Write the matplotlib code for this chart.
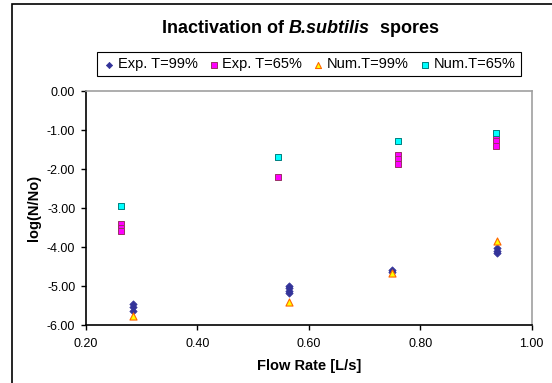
import numpy as np
import matplotlib
matplotlib.use("Agg")
import matplotlib.pyplot as plt
from matplotlib.patches import Rectangle

plt.rcParams['font.family'] = ['Liberation Sans', 'DejaVu Sans']

# data
exp99_x = [0.285, 0.285, 0.285, 0.564, 0.564, 0.564, 0.564, 0.749, 0.749, 0.938, 0.938, 0.938]
exp99_y = [-5.45, -5.55, -5.65, -5.00, -5.05, -5.12, -5.18, -4.60, -4.65, -4.03, -4.10, -4.16]
exp65_x = [0.263, 0.263, 0.263, 0.544, 0.761, 0.761, 0.761, 0.936, 0.936, 0.936]
exp65_y = [-3.42, -3.50, -3.60, -2.20, -1.65, -1.75, -1.88, -1.22, -1.28, -1.40]
num99_x = [0.285, 0.564, 0.749, 0.938]
num99_y = [-5.76, -5.40, -4.66, -3.85]
num65_x = [0.263, 0.544, 0.761, 0.936]
num65_y = [-2.96, -1.68, -1.28, -1.07]

xticks = [0.2, 0.4, 0.6, 0.8, 1.0]
yticks = [0, -1, -2, -3, -4, -5, -6]

title_parts = ["Inactivation of ", "B.subtilis", "  spores"]
title_styles = ["normal", "italic", "normal"]

fig = plt.figure(figsize=(5.52, 3.83), dpi=100)
ax = fig.add_axes([0.1553, 0.1514, 0.808, 0.611])

ax.scatter(exp99_x, exp99_y, marker='D', s=14, color='#333399', edgecolors='#333399',
           linewidths=0.5, label='Exp. T=99%', zorder=3)
ax.scatter(exp65_x, exp65_y, marker='s', s=22, color='#FF00FF', edgecolors='#993366',
           linewidths=0.7, label='Exp. T=65%', zorder=3)
ax.scatter(num99_x, num99_y, marker='^', s=26, color='#FFFF00', edgecolors='#FF6600',
           linewidths=0.8, label='Num.T=99%', zorder=4)
ax.scatter(num65_x, num65_y, marker='s', s=22, color='#00FFFF', edgecolors='#008080',
           linewidths=0.7, label='Num.T=65%', zorder=4)

ax.set_xlim(0.2, 1.0)
ax.set_ylim(-6, 0)
ax.set_xticks(xticks)
ax.set_xticklabels(["%.2f" % v for v in xticks])
ax.set_yticks(yticks)
ax.set_yticklabels(["%.2f" % v for v in yticks])
ax.tick_params(direction='out', length=3.5, width=1, labelsize=9, colors='black')
ax.tick_params(axis='x', pad=5.5)
ax.tick_params(axis='y', pad=4.0)

for s in ['left', 'bottom']:
    ax.spines[s].set_color('black')
    ax.spines[s].set_linewidth(1.2)
for s in ['top', 'right']:
    ax.spines[s].set_color('#A0A0A0')
    ax.spines[s].set_linewidth(1.2)

ax.set_xlabel("Flow Rate [L/s]", fontsize=10.5, fontweight='bold', labelpad=7)
ax.set_ylabel("log(N/No)", fontsize=10.5, fontweight='bold', labelpad=4)

# title in three pieces so that only the species name is italic
renderer = fig.canvas.get_renderer()
texts = []
for part, style in zip(title_parts, title_styles):
    t = fig.text(0, 0.926, part, ha='left', va='center', fontsize=13,
                 fontweight='bold', fontstyle=style)
    texts.append(t)
widths = [t.get_window_extent(renderer).width for t in texts]
x = 0.5435 * fig.bbox.width - sum(widths) / 2
for t, w in zip(texts, widths):
    t.set_x(x / fig.bbox.width)
    x += w

leg = fig.legend(loc='center', bbox_to_anchor=(0.559, 0.832), ncol=4, fontsize=10.5,
                 frameon=True, fancybox=False, edgecolor='black', framealpha=1,
                 handletextpad=0.1, columnspacing=0.6, borderpad=0.35,
                 handlelength=1.0, markerscale=0.85)
leg.get_frame().set_linewidth(0.8)

fig.patches.append(Rectangle((12 / 552, -0.05), 1.0, 0.05 + (383 - 4) / 383,
                             transform=fig.transFigure, fill=False,
                             edgecolor='black', linewidth=1.2))

fig.savefig("out.png", dpi=100)
